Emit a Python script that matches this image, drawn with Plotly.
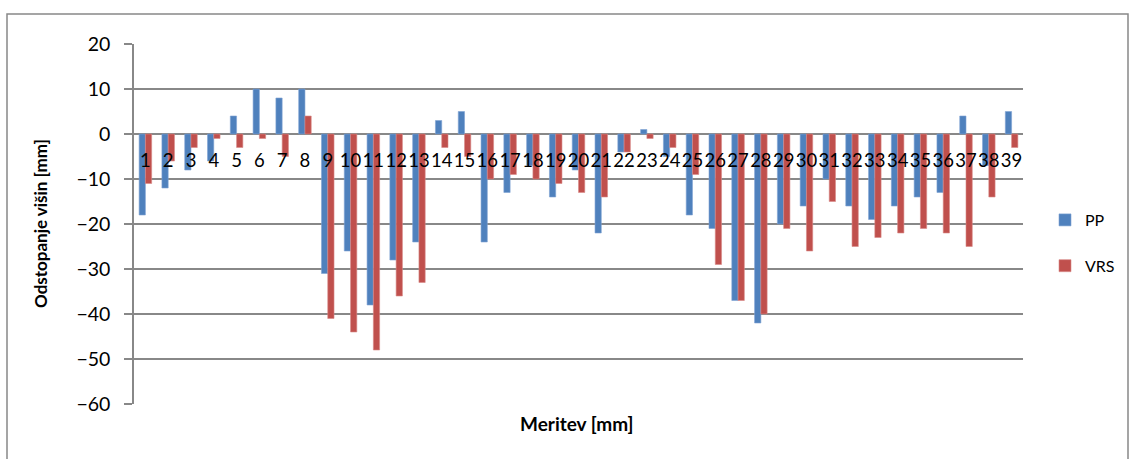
import plotly.graph_objects as go

categories = [str(i) for i in range(1, 40)]
pp = [-18, -12, -8, -6, 4, 10, 8, 10, -31, -26,
      -38, -28, -24, 3, 5, -24, -13, -7, -14, -8,
      -22, -4, 1, -5, -18, -21, -37, -42, -20, -16,
      -10, -16, -19, -16, -14, -13, 4, -7, 5]
vrs = [-11, -6, -3, -1, -3, -1, -5, 4, -41, -44,
       -48, -36, -33, -3, -5, -10, -9, -10, -11, -13,
       -14, -4, -1, -3, -9, -29, -37, -40, -21, -26,
       -15, -25, -23, -22, -21, -22, -25, -14, -3]
y_ticks = [20, 10, 0, -10, -20, -30, -40, -50, -60]

FONT = "Lato"
GRID = "#888888"

fig = go.Figure()
fig.add_trace(go.Bar(x=categories, y=pp, name="PP", marker_color="#4F81BD",
                     marker_line=dict(color="#7FA3D3", width=0.6), legendgroup="a"))
fig.add_trace(go.Bar(x=categories, y=vrs, name="VRS", marker_color="#C0504D",
                     marker_line=dict(color="#D88A88", width=0.6), legendgroup="b"))

W, H = 1129, 459
L, R, T, B = 134, 1023, 44, 404
pw, ph = R - L, B - T

def px(x):
    return (x - L) / pw

def py(y):
    return (B - y) / ph

fig.update_layout(
    width=W, height=H,
    margin=dict(l=L, r=W - R, t=T, b=H - B, autoexpand=False),
    paper_bgcolor="white", plot_bgcolor="white",
    barmode="group", bargap=0.45, bargroupgap=0,
    font=dict(family=FONT, color="black"),
    showlegend=True,
    legend=dict(x=px(1045), y=py(203), xanchor="left", yanchor="top",
                font=dict(size=16, family=FONT), tracegroupgap=22,
                itemwidth=30, bgcolor="rgba(0,0,0,0)"),
    xaxis=dict(type="category", anchor="free", position=0.75,
               showgrid=False, showline=False, ticks="", zeroline=False,
               tickangle=0, ticklabelstandoff=13,
               tickfont=dict(size=18.5, family=FONT, color="black"),
               range=[-0.5, 38.5]),
    yaxis=dict(range=[-60, 20], tickvals=y_ticks, showgrid=True,
               gridcolor=GRID, gridwidth=1.5, zeroline=False,
               showline=True, linecolor=GRID, linewidth=1.5,
               ticks="outside", ticklen=8, tickcolor=GRID, tickwidth=1.5,
               ticklabelstandoff=10,
               tickfont=dict(size=19.5, family=FONT, color="black")),
    shapes=[dict(type="rect", xref="paper", yref="paper",
                 x0=px(7), x1=px(1128), y0=py(470), y1=py(14),
                 line=dict(color=GRID, width=1.5), layer="below")],
    annotations=[
        dict(text="<b>Odstopanje višin [mm]</b>", xref="paper", yref="paper",
             x=px(40), y=0.5, textangle=-90, showarrow=False,
             xanchor="center", yanchor="middle",
             font=dict(size=17, family=FONT, color="black")),
        dict(text="<b>Meritev [mm]</b>", xref="paper", yref="paper",
             x=px(577), y=py(423), showarrow=False,
             xanchor="center", yanchor="middle",
             font=dict(size=19, family=FONT, color="black")),
    ],
)

fig.write_html("out.html")
